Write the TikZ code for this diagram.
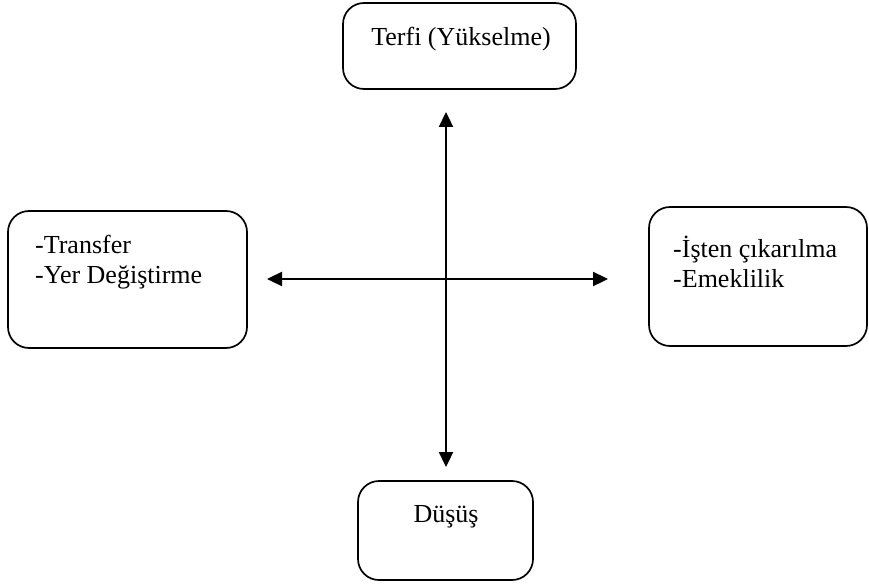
\documentclass[tikz,border=0pt]{standalone}
\usepackage{fontspec}
\setmainfont{Liberation Serif}
\usetikzlibrary{arrows.meta}
\begin{document}
\begin{tikzpicture}[x=1pt,y=-1pt,
  box/.style={draw=black, line width=1.7pt, rounded corners=21pt},
  lbl/.style={inner sep=0pt, font=\fontsize{26}{30}\selectfont, text=black},
  link/.style={line width=2.3pt, {Triangle[length=15pt,width=14pt]}-{Triangle[length=15pt,width=14pt]}}]
  \useasboundingbox (0,0) rectangle (869,585);
  % four boxes
  \draw[box] (343,3) rectangle (576,89);
  \draw[box] (8,211) rectangle (247,348);
  \draw[box] (649,207) rectangle (867,346);
  \draw[box] (358,481) rectangle (533,580);
  % labels
  \node[lbl, anchor=base] (up) at (461,46) {Terfi (Yükselme)};
  \node[lbl, anchor=base west] (left1) at (35,253) {-Transfer};
  \node[lbl, anchor=base west] (left2) at (35,283) {-Yer Değiştirme};
  \node[lbl, anchor=base west] (right1) at (673,258) {-İşten çıkarılma};
  \node[lbl, anchor=base west] (right2) at (673,287) {-Emeklilik};
  \node[lbl, anchor=base] (down) at (446,522) {Düşüş};
  % crossing arrows
  \coordinate (vtop) at (446,112);
  \coordinate (vbot) at (446,467);
  \coordinate (hl) at (267,279);
  \coordinate (hr) at (608,279);
  \draw[link] (vtop) -- (vbot);
  \draw[link] (hl) -- (hr);
\end{tikzpicture}
\end{document}
